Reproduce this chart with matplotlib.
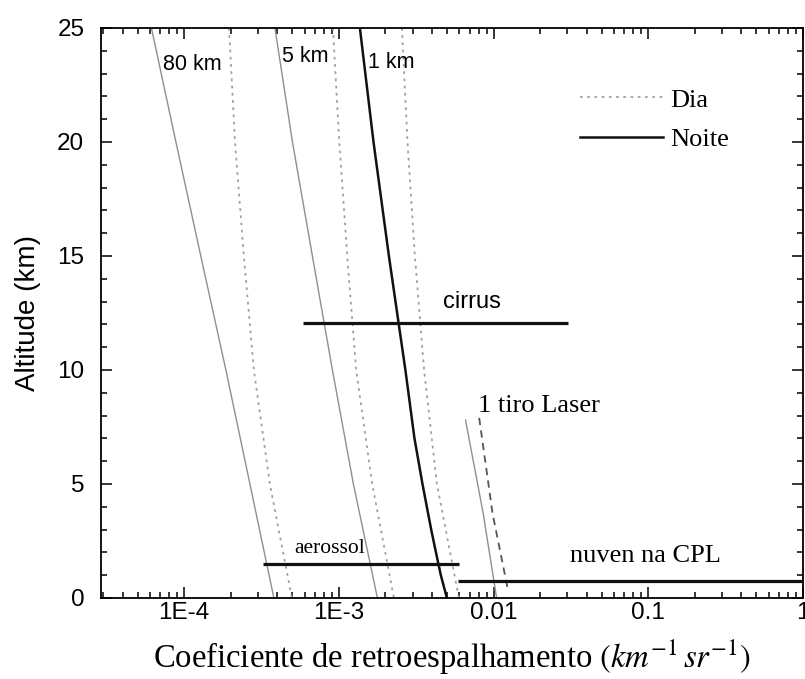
import matplotlib
matplotlib.use("Agg")
import matplotlib.pyplot as plt
from matplotlib.ticker import FixedLocator, LogLocator, NullFormatter, MultipleLocator

# altitudes (km) where the curves were read
ALT = [25, 20, 15, 10, 5, 0]

# backscatter threshold curves (km^-1 sr^-1)
n80 = [6.14e-5, 8.84e-5, 1.28e-4, 1.86e-4, 2.66e-4, 3.80e-4]
d80 = [1.95e-4, 2.13e-4, 2.43e-4, 2.82e-4, 3.58e-4, 4.97e-4]
n5 = [3.86e-4, 5.01e-4, 6.74e-4, 9.08e-4, 1.241e-3, 1.774e-3]
d5 = [9.15e-4, 1.006e-3, 1.132e-3, 1.293e-3, 1.642e-3, 2.268e-3]
ALT_1KM_N = [25, 20, 15, 10, 7, 5, 3, 2, 1, 0]
n1 = [1.367e-3, 1.674e-3, 2.105e-3, 2.691e-3, 3.08e-3, 3.47e-3, 3.95e-3,
      4.24e-3, 4.56e-3, 4.99e-3]
d1 = [2.554e-3, 2.776e-3, 3.099e-3, 3.554e-3, 4.30e-3, 5.97e-3]

# single laser shot
alt_shot_n = [7.8, 3.7, 0.0]
shot_n = [6.59e-3, 8.57e-3, 1.046e-2]
alt_shot_d = [7.9, 3.7, 0.3]
shot_d = [8.07e-3, 9.85e-3, 1.243e-2]

# typical layers: (altitude, x start, x end)
cirrus = (12.05, 5.83e-4, 3.03e-2)
aerossol = (1.5, 3.21e-4, 5.97e-3)
nuvem = (0.75, 5.90e-3, 1.0)

xticks = [1e-4, 1e-3, 1e-2, 1e-1, 1]
xticklabels = ["1E-4", "1E-3", "0.01", "0.1", "1"]

SANS = "Liberation Sans"
SERIF = "Liberation Serif"
plt.rcParams["font.family"] = SANS
plt.rcParams["mathtext.fontset"] = "stix"

fig = plt.figure(figsize=(8.05, 6.79), dpi=100)
ax = fig.add_axes([0.1255, 0.1193, 0.872, 0.8395])

gray = "#8f8f8f"
dgray = "#a0a0a0"
dots = (0, (1.5, 2.5))
ax.plot(n80, ALT, color=gray, lw=1.0)
ax.plot(d80, ALT, color=dgray, lw=1.3, ls=dots)
ax.plot(n5, ALT, color=gray, lw=1.0)
ax.plot(d5, ALT, color=dgray, lw=1.3, ls=dots)
ax.plot(n1, ALT_1KM_N, color="#111111", lw=1.8)
ax.plot(d1, ALT, color=dgray, lw=1.3, ls=dots)
ax.plot(shot_n, alt_shot_n, color=gray, lw=1.0)
ax.plot(shot_d, alt_shot_d, color="#555555", lw=1.3, ls=(0, (4, 3)))

for y, x0, x1 in (cirrus, aerossol, nuvem):
    ax.plot([x0, x1], [y, y], color="#111111", lw=2.3, solid_capstyle="butt")

ax.set_xscale("log")
ax.set_xlim(2.9e-5, 1.0)
ax.set_ylim(0, 25)
ax.xaxis.set_major_locator(FixedLocator(xticks))
ax.set_xticklabels(xticklabels)
ax.xaxis.set_minor_locator(LogLocator(base=10, subs=range(2, 10), numticks=20))
ax.xaxis.set_minor_formatter(NullFormatter())
ax.yaxis.set_major_locator(MultipleLocator(5))
ax.yaxis.set_minor_locator(MultipleLocator(1))
ax.tick_params(which="both", direction="in", top=True, right=True,
               labelsize=17.5, width=1.1)
ax.tick_params(axis="x", pad=3)
ax.tick_params(axis="y", pad=12)
ax.tick_params(which="major", length=8)
ax.tick_params(which="minor", length=4)
for s in ax.spines.values():
    s.set_linewidth(1.3)

ax.set_ylabel("Altitude (km)", fontsize=20, labelpad=12)
ax.set_xlabel(r"Coeficiente de retroespalhamento $(km^{-1}\,sr^{-1})$",
              fontsize=23.5, family=SERIF, labelpad=10)

ax.text(7.28e-5, 23.15, "80 km", fontsize=15.5)
ax.text(4.26e-4, 23.5, "5 km", fontsize=15.5)
ax.text(1.54e-3, 23.25, "1 km", fontsize=15.5)
ax.text(4.7e-3, 12.72, "cirrus", fontsize=17)
ax.text(5.12e-4, 1.97, "aerossol", fontsize=15.5, family=SERIF)
ax.text(7.92e-3, 8.16, "1 tiro Laser", fontsize=19, family=SERIF)
ax.text(3.11e-2, 1.58, "nuven na CPL", fontsize=19, family=SERIF)

leg_d, = ax.plot([], [], color=dgray, lw=1.3, ls=dots)
leg_n, = ax.plot([], [], color="#111111", lw=1.8)
ax.legend([leg_d, leg_n], ["Dia", "Noite"], loc="upper left",
          bbox_to_anchor=(0.648, 0.936), frameon=False, handlelength=3.15,
          handletextpad=0.3, labelspacing=0.6, prop={"family": SERIF, "size": 19})

fig.savefig("out.png", dpi=100)
